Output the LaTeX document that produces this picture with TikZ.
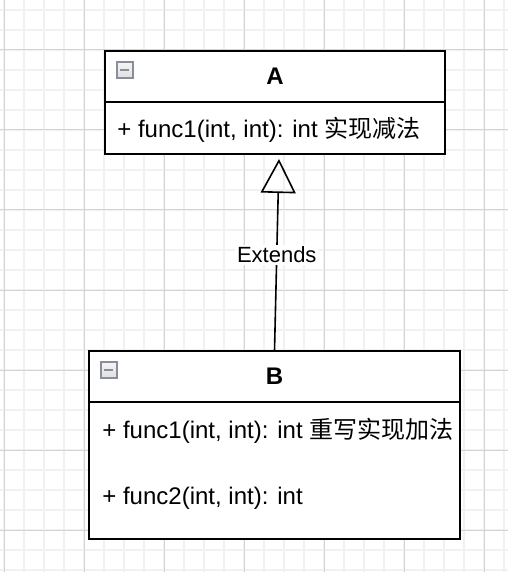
\documentclass[tikz,border=0pt]{standalone}
\usepackage{fontspec}
\setmainfont{Liberation Sans}
\newfontfamily\cjk{Noto Sans CJK SC}
\usetikzlibrary{arrows.meta,calc}

\definecolor{gridminor}{HTML}{F1F1F1}
\definecolor{gridmajor}{HTML}{D4D4D4}
\definecolor{iconedge}{HTML}{8A8E9C}

\tikzset{
	classhead/.style={draw,line width=1pt,outer sep=0pt,minimum width=#1,minimum height=25.5pt,inner sep=0pt,font=\bfseries\fontsize{12}{14}\selectfont},
	classbody/.style={draw,line width=1pt,outer sep=0pt,minimum width=#1,inner sep=0pt,anchor=north},
	member/.style={anchor=west,inner sep=0pt,font=\fontsize{12}{14}\selectfont},
	foldicon/.style={draw=iconedge,line width=1pt,top color=gray!8,bottom color=gray!25,minimum size=8pt,inner sep=0pt,anchor=north west,
		path picture={\draw[line width=1.4pt] ($(path picture bounding box.west)+(1.6pt,0)$)--($(path picture bounding box.east)+(-1.6pt,0)$);}},
}

\begin{document}
\begin{tikzpicture}[x=0.5pt,y=-0.5pt]
	\useasboundingbox (0,0) rectangle (508,572);
	
	%grid
	\foreach \x in {4,24,...,504} \draw[gridminor,line width=0.8pt] (\x,0)--(\x,572);
	\foreach \y in {10,30,...,570} \draw[gridminor,line width=0.8pt] (0,\y)--(508,\y);
	\foreach \x in {4,84,...,484} \draw[gridmajor,line width=0.5pt] (\x,0)--(\x,572);
	\foreach \y in {50,130,...,530} \draw[gridmajor,line width=0.5pt] (0,\y)--(508,\y);
	
	%class A
	\node[classhead=170pt,fill=white] (headA) at (275,76.5) {A};
	\node[classbody=170pt,minimum height=26pt,fill=white] (bodyA) at (headA.south) {};
	\node[foldicon] (iconA) at (115.5,61) {};
	\node[member] (funcA) at (117,130) {+ func1(int, int): int {\cjk 实现减法}};
	
	%class B
	\node[classhead=185.5pt,fill=white] (headB) at (274.5,376.5) {B};
	\node[classbody=185.5pt,minimum height=68.5pt,fill=white] (bodyB) at (headB.south) {};
	\node[foldicon] (iconB) at (99.5,361) {};
	\node[member] (funcB1) at (102,431) {+ func1(int, int): int {\cjk 重写实现加法}};
	\node[member] (funcB2) at (102,498) {+ func2(int, int): int};
	
	%inheritance
	\draw[-{Triangle[open,length=17pt,width=17.5pt]},line width=0.8pt] (headB.north)--([xshift=2pt,yshift=-2.5pt]bodyA.south)
		node[pos=0.5,fill=white,inner sep=1pt,font=\fontsize{11}{13}\selectfont] (ext) {Extends};
\end{tikzpicture}
\end{document}
